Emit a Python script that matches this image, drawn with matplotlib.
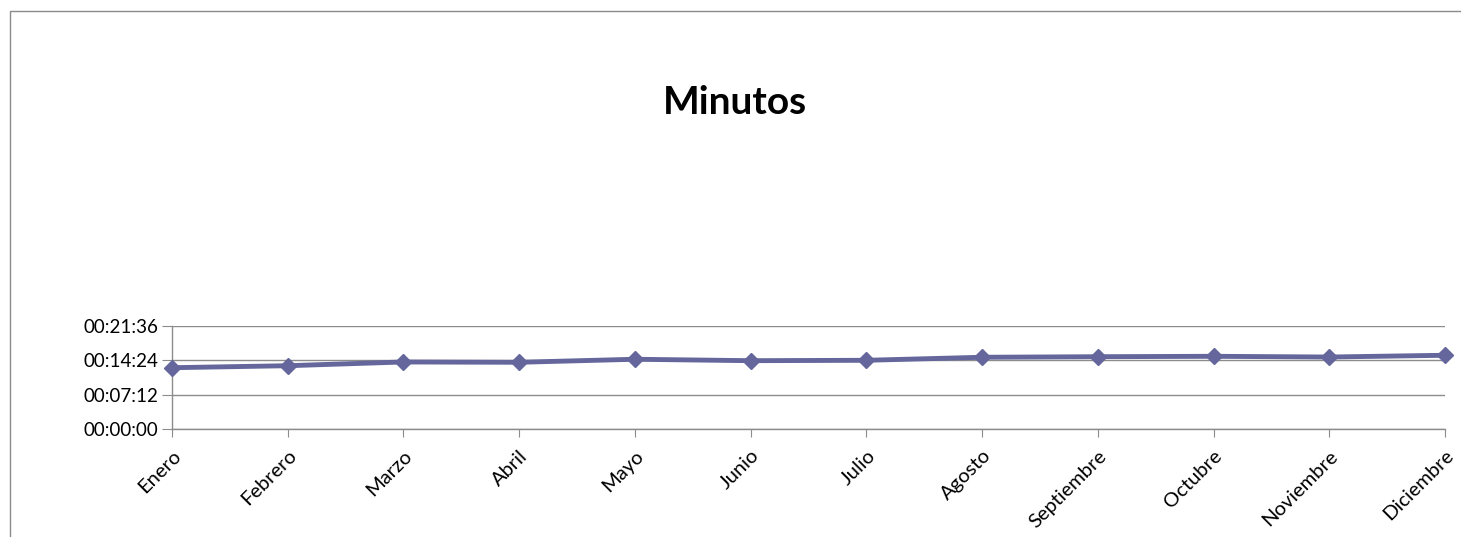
import matplotlib
matplotlib.use("Agg")
import matplotlib.pyplot as plt
from matplotlib.ticker import FuncFormatter, FixedLocator
from matplotlib.patches import Rectangle

months = ["Enero", "Febrero", "Marzo", "Abril", "Mayo", "Junio", "Julio",
          "Agosto", "Septiembre", "Octubre", "Noviembre", "Diciembre"]
# minutes values in seconds
seconds = [769, 794, 841, 837, 875, 857, 862, 900, 907, 912, 903, 925]
y_ticks = [0, 432, 864, 1296]

FONT = ["Lato", "DejaVu Sans"]
W, H = 1461, 537
fig = plt.figure(figsize=(W / 100, H / 100), dpi=100)
fig.patch.set_facecolor("white")

# outer chart frame
fig.add_artist(Rectangle((10 / W, -0.1), 1.1, (H - 11) / H + 0.1,
                         transform=fig.transFigure, fill=False,
                         edgecolor="#8a8a8a", linewidth=1.0))

left, right = 172 / W, 1445 / W
bottom, top = (H - 429) / H, (H - 325.7) / H
ax = fig.add_axes([left, bottom, right - left, top - bottom])

x = list(range(len(months)))
ax.plot(x, seconds, color="#64669C", linewidth=3.5, marker="D",
        markersize=8, markerfacecolor="#64669C", markeredgecolor="#64669C",
        zorder=3, clip_on=False)

ax.set_xlim(0, len(months) - 1)
ax.set_ylim(0, 1296)
ax.yaxis.set_major_locator(FixedLocator(y_ticks))

def fmt(v, pos):
    v = int(round(v))
    return f"{v // 3600:02d}:{(v % 3600) // 60:02d}:{v % 60:02d}"

ax.yaxis.set_major_formatter(FuncFormatter(fmt))
ax.set_xticks(x)
ax.set_xticklabels(months, rotation=45, ha="right", rotation_mode="anchor",
                   fontsize=14.5, family=FONT)
for lab in ax.get_yticklabels():
    lab.set_fontsize(13.5)
    lab.set_family(FONT)

ax.grid(axis="y", color="#8c8c8c", linewidth=1.0)
ax.set_axisbelow(True)
for s in ["top", "right"]:
    ax.spines[s].set_visible(False)
for s in ["left", "bottom"]:
    ax.spines[s].set_color("#8c8c8c")
    ax.spines[s].set_linewidth(1.0)
ax.tick_params(axis="y", length=7, color="#8c8c8c", pad=3)
ax.tick_params(axis="x", length=6, color="#8c8c8c", pad=7)

fig.text(735 / W, 1 - 103 / H, "Minutos", ha="center", va="center",
         fontsize=28, fontweight="bold", family=FONT)

fig.savefig("out.png", dpi=100, facecolor="white")
